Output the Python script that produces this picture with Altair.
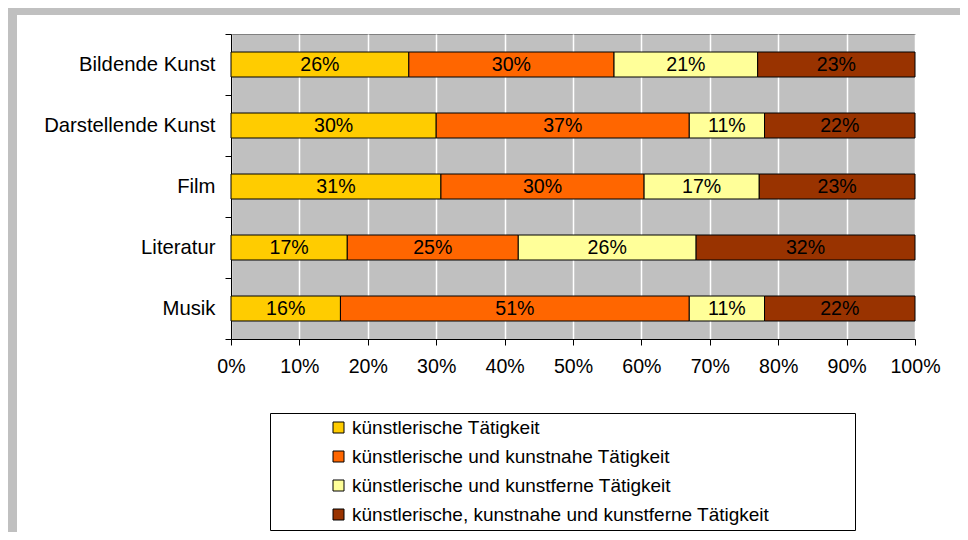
import altair as alt
import pandas as pd

categories = ["Bildende Kunst", "Darstellende Kunst", "Film", "Literatur", "Musik"]
series = [
    "künstlerische Tätigkeit",
    "künstlerische und kunstnahe Tätigkeit",
    "künstlerische und kunstferne Tätigkeit",
    "künstlerische, kunstnahe und kunstferne Tätigkeit",
]
colors = ["#FFCC00", "#FF6600", "#FFFF99", "#993300"]

kuenstlerisch = [26, 30, 31, 17, 16]
kunstnah = [30, 37, 30, 25, 51]
kunstfern = [21, 11, 17, 26, 11]
nah_und_fern = [23, 22, 23, 32, 22]

tick_values = [0, 0.1, 0.2, 0.3, 0.4, 0.5, 0.6, 0.7, 0.8, 0.9, 1.0]

rows = []
for si, (name, vals) in enumerate(zip(series, [kuenstlerisch, kunstnah, kunstfern, nah_und_fern])):
    for cat, v in zip(categories, vals):
        rows.append({"cat": cat, "series": name, "ord": si, "value": v})
df = pd.DataFrame(rows)

FONT = "Liberation Sans"
W, H = 684, 305

base = alt.Chart(df).transform_stack(
    stack="value",
    groupby=["cat"],
    as_=["x0", "x1"],
    offset="normalize",
    sort=[alt.SortField("ord", order="ascending")],
)

y_enc = alt.Y(
    "cat:N",
    sort=categories,
    scale=alt.Scale(paddingInner=0, paddingOuter=0),
    axis=alt.Axis(
        title=None, tickBand="extent", tickSize=6, labelPadding=10,
        domainColor="black", tickColor="black", labelColor="black",
        labelFont=FONT, labelFontSize=20.3, grid=False, labelLimit=400,
    ),
)

x_scale = alt.Scale(domain=[0, 1], nice=False, zero=True)
x_axis = alt.Axis(
    title=None, values=tick_values, format=".0%", grid=True, gridColor="white",
    gridWidth=1.5, gridOpacity=1, tickSize=6, labelPadding=12,
    labelFlush=False, labelOverlap=False,
    domainColor="black", tickColor="black", labelColor="black",
    labelFont=FONT, labelFontSize=19.6,
)

pad_chars = "\u00a0\u00a0" + "\u2800" * 5
legend = alt.Legend(
    title=None, orient="none", legendX=39, legendY=379,
    fillColor="white", strokeColor="black", padding=5,
    symbolType="square", symbolSize=121, symbolStrokeColor="black",
    symbolStrokeWidth=1, symbolOffset=54, labelOffset=4,
    labelFont=FONT, labelFontSize=19, labelColor="black", labelLimit=2000,
    rowPadding=9, labelExpr="datum.label + '" + pad_chars + "'",
)

bars = base.mark_bar(size=25, stroke="black", strokeWidth=1).encode(
    x=alt.X("x0:Q", scale=x_scale, axis=x_axis),
    x2="x1:Q",
    y=y_enc,
    color=alt.Color("series:N", sort=series,
                    scale=alt.Scale(domain=series, range=colors), legend=legend),
)

text = base.transform_calculate(
    mid="(datum.x0 + datum.x1) / 2",
    label="datum.value + '%'",
).mark_text(font=FONT, fontSize=19.6, color="black", baseline="middle").encode(
    x=alt.X("mid:Q", scale=x_scale, axis=x_axis),
    y=y_enc,
    text="label:N",
)

frame_data = alt.Data(values=[{"k": 1}])
frame_top = alt.Chart(frame_data).mark_rule(color="#C0C0C0", strokeWidth=7).encode(
    x=alt.value(-223), x2=alt.value(729), y=alt.value(-22.5)
)
frame_left = alt.Chart(frame_data).mark_rule(color="#C0C0C0", strokeWidth=9).encode(
    x=alt.value(-218.5), y=alt.value(-26), y2=alt.value(498)
)

chart = alt.layer(frame_top, frame_left, bars, text).properties(
    width=W, height=H,
    autosize=alt.AutoSizeParams(type="none"),
    padding={"left": 223, "top": 26, "right": 45, "bottom": 193},
    background="white",
).configure_view(fill="#C0C0C0", stroke="#808080", strokeWidth=1)

chart.save("out.html", embed_options={"renderer": "svg", "actions": False})
